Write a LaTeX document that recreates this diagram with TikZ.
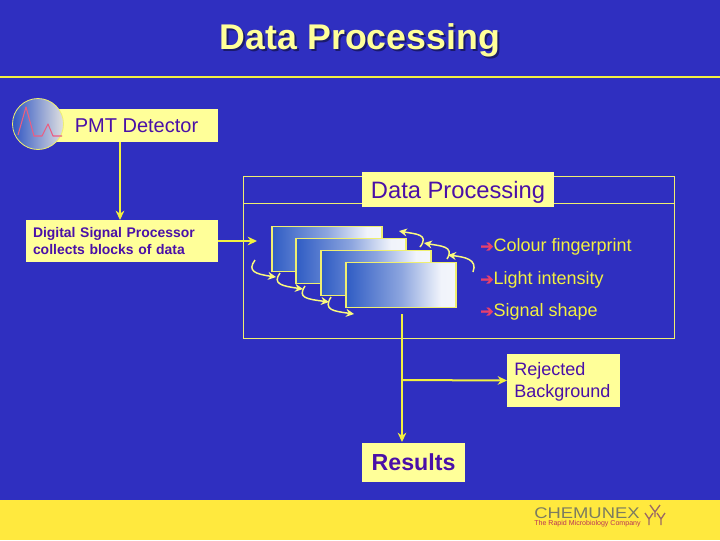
\documentclass[tikz,border=0pt]{standalone}
\usepackage{fontspec}
\setmainfont{Liberation Sans}
\newfontfamily\arrowfont[RawFeature={embolden=1.5}]{DejaVu Sans}
\usetikzlibrary{arrows.meta}
\definecolor{bgblue}{HTML}{2F2FC0}
\definecolor{band}{HTML}{FFE93E}
\definecolor{pale}{HTML}{FFFF99}
\definecolor{ink}{HTML}{4A10A8}
\definecolor{lineY}{HTML}{F2F040}
\definecolor{frameY}{HTML}{EFEF70}
\definecolor{pinkish}{HTML}{E8406C}
\definecolor{cardblue}{HTML}{2F5CC4}
\definecolor{logoG}{HTML}{7C7C60}
\pgfdeclarehorizontalshading{cardshade}{100bp}{color(0bp)=(cardblue); color(25bp)=(cardblue); color(50bp)=(cardblue!55!white); color(68bp)=(white!93!cardblue); color(100bp)=(white)}
\tikzset{
  lbl/.style={fill=pale,text=ink,inner sep=0pt,outer sep=0pt,align=center},
  conn/.style={draw=lineY,line width=1.5pt,-{Stealth[length=7pt,width=6.5pt]}},
  curly/.style={draw=pale!70!lineY,line width=1.1pt,-{Stealth[length=6pt,width=6pt]}},
  card/.style={draw=frameY,line width=0.8pt,shading=cardshade,minimum width=82.5pt,minimum height=33.75pt,inner sep=0pt},
  bul/.style={anchor=west,text=lineY,inner sep=0pt,font=\fontsize{13.5pt}{16pt}\selectfont},
}
\newcommand{\bulletmark}{\textcolor{pinkish}{\arrowfont\fontsize{12pt}{10pt}\selectfont ➔}}
\newcommand{\dropby}[2]{\raisebox{#1}[\height][\depth]{#2}}
\begin{document}
\begin{tikzpicture}[x=0.75pt,y=-0.75pt]
\useasboundingbox (0,0) rectangle (720,540);
\fill[bgblue] (0,0) rectangle (720,540);
\fill[band] (0,500) rectangle (720,540);
\draw[lineY,line width=1pt] (0,77) -- (720,77);
% title
\node[text=black!20!bgblue!70!black,font=\fontsize{26.8pt}{30pt}\selectfont\bfseries,inner sep=0pt] (titleshadow) at (362,42) {Data Processing};
\node[text=pale,font=\fontsize{26.8pt}{30pt}\selectfont\bfseries,inner sep=0pt] (title) at (360,40) {Data Processing};
% frame
\node[draw=frameY,line width=0.7pt,minimum width=323.25pt,minimum height=121.5pt,inner sep=0pt] (frame) at (458.5,257) {};
\coordinate (fl) at (243,203); \coordinate (fr) at (674,203);
\draw[frameY,line width=0.7pt] (fl) -- (fr);
% boxes
\node[lbl,minimum width=122.25pt,minimum height=24.75pt,font=\fontsize{15pt}{18pt}\selectfont] (pmt) at (136.5,125.5) {PMT Detector};
\node[lbl,text width=133.5pt,inner xsep=5.25pt,minimum height=31.5pt,align=left,font=\fontsize{10.45pt}{12.75pt}\selectfont\bfseries] (dsp) at (122,241) {Digital Signal Processor\\collects blocks of data};
\node[lbl,minimum width=144pt,minimum height=26.25pt,font=\fontsize{17.8pt}{20pt}\selectfont] (dp) at (458,189.5) {\dropby{-2.2pt}{Data Processing}};
\node[lbl,minimum width=84.75pt,minimum height=39.75pt,align=left,font=\fontsize{13.5pt}{16.5pt}\selectfont] (rej) at (563.5,380.5) {\hspace*{-1.8pt}\dropby{-1.2pt}{Rejected}\\\hspace*{-1.8pt}\dropby{-1.2pt}{Background}};
\node[lbl,minimum width=77.25pt,minimum height=29.25pt,font=\fontsize{17.4pt}{20pt}\selectfont\bfseries] (res) at (413.5,462.5) {Results};
% detector circle
\node[circle,draw=frameY,line width=0.6pt,left color=cardblue!85!bgblue,right color=white!88!black,minimum size=38.25pt,inner sep=0pt] (det) at (38,124) {};
\draw[pinkish!85!white,line width=0.8pt,line join=round] (18,135) -- (26,107) -- (34,136) -- (42,136) -- (48,124) -- (53,136) -- (62,136);
% cards
\node[card] (c1) at (327,249) {};
\node[card] (c2) at (351,261) {};
\node[card] (c3) at (376,273) {};
\node[card] (c4) at (401,285) {};
% curly arrows, left
\coordinate (l1s) at (255,260); \coordinate (l1e) at (276,277);
\coordinate (l2s) at (280,273); \coordinate (l2e) at (303,289);
\coordinate (l3s) at (305,286); \coordinate (l3e) at (329,302);
\coordinate (l4s) at (331,297); \coordinate (l4e) at (354,314);
\draw[curly] (l1s) .. controls (247,271) and (255,274) .. (l1e);
\draw[curly] (l2s) .. controls (272,284) and (282,286) .. (l2e);
\draw[curly] (l3s) .. controls (297,298) and (307,299) .. (l3e);
\draw[curly] (l4s) .. controls (323,310) and (333,311) .. (l4e);
% curly arrows, right
\coordinate (r1s) at (473,272); \coordinate (r1e) at (448,255);
\coordinate (r2s) at (447,259); \coordinate (r2e) at (424,243);
\coordinate (r3s) at (420,247); \coordinate (r3e) at (399,231);
\draw[curly] (r1s) .. controls (478,259) and (464,257) .. (r1e);
\draw[curly] (r2s) .. controls (455,246) and (440,246) .. (r2e);
\draw[curly] (r3s) .. controls (430,234) and (415,234) .. (r3e);
% connectors
\coordinate (pmtout) at (120,142); \coordinate (dspin) at (120,220);
\draw[conn] (pmtout) -- (dspin);
\coordinate (stackin) at (257,241);
\draw[conn] (dsp.east) -- (stackin);
\coordinate (down) at (402,314); \coordinate (resin) at (402,442); \coordinate (branch) at (402,380);
\draw[conn] (down) -- (resin);
\draw[conn] (branch) -- (rej.west);
% bullets
\node[bul] (b1) at (480,247) {\bulletmark Colour fingerprint};
\node[bul] (b2) at (480,280) {\bulletmark Light intensity};
\node[bul] (b3) at (480,312) {\bulletmark Signal shape};
% logo
\node[text=logoG,inner sep=0pt,anchor=west,font=\fontsize{11.6pt}{13pt}\selectfont] (logo) at (534,513) {\scalebox{1.19}[1]{CHEMUNEX}};
\node[text=pinkish!80!black,inner sep=0pt,anchor=west,font=\fontsize{5.3pt}{6pt}\selectfont] (tag) at (534,523.5) {The Rapid Microbiology Company};
\draw[logoG!70!pinkish,line width=1pt] (655,517) -- (655,512) -- (650,505) (655,512) -- (660,505)
  (649,525) -- (649,519) -- (645,513) (649,519) -- (653,513)
  (661,525) -- (661,519) -- (657,513) (661,519) -- (665,513);
\end{tikzpicture}
\end{document}
